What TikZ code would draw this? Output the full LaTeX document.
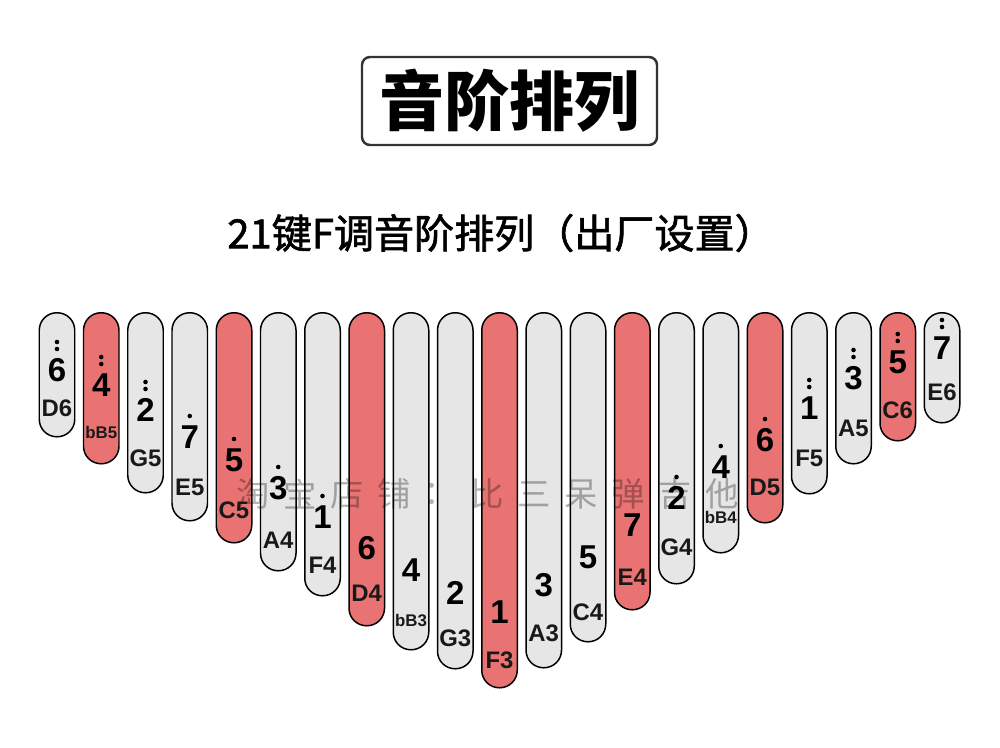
\documentclass[tikz,border=0pt]{standalone}
\usepackage{fontspec}
\setmainfont{Liberation Sans}
\newfontfamily\cjk{Noto Sans CJK SC}
\newfontfamily\cjksub[FakeBold=1.6]{Noto Sans CJK SC}
\usepackage{xcolor}
\usetikzlibrary{positioning}
\definecolor{keyred}{HTML}{E97373}
\definecolor{keygray}{HTML}{E6E6E6}
\definecolor{boxline}{HTML}{333333}
\tikzset{
  keybar/.style={draw=black,line width=0.85pt,rounded corners=3.5mm,minimum width=7.1mm,inner sep=0pt,anchor=north},
  numtxt/.style={font=\fontsize{18.8}{18.8}\selectfont\bfseries,inner sep=0pt},
  nametxt/.style={inner sep=0pt,text=black!90},
  marktxt/.style={font=\cjk\fontsize{19}{19}\selectfont,text=black,opacity=0.3,inner sep=0pt}
}

\begin{document}
\begin{tikzpicture}[x=0.2mm,y=-0.2mm]
\useasboundingbox (0,0) rectangle (1000,747);
% headings
\node (title) [draw=boxline,line width=1.4pt,rounded corners=1.6mm,minimum width=59mm,minimum height=17.6mm,
  font=\cjk\bfseries\fontsize{37}{37}\selectfont] at (509.5,101) {音阶排列};
\node (sub) [font=\cjksub\fontsize{22.8}{22.8}\selectfont] at (501,233) {21键F调音阶排列（出厂设置）};
% keys: index/fill/bottom
\foreach \i/\c/\b in {
  1/keygray/436, 2/keyred/463, 3/keygray/492, 4/keygray/520, 5/keyred/542,
  6/keygray/570, 7/keygray/595, 8/keyred/625, 9/keygray/649, 10/keygray/668,
  11/keyred/687, 12/keygray/667, 13/keygray/641, 14/keyred/609, 15/keygray/583,
  16/keygray/552, 17/keyred/522, 18/keygray/493, 19/keygray/463, 20/keyred/440,
  21/keygray/422}{
  \pgfmathsetmacro\kx{57+44.25*(\i-1)}
  \node (key\i) [keybar,fill=\c,minimum height={(\b-312)*0.2mm}] at (\kx,312) {};
}
% watermark
\foreach \ch [count=\j] in {淘,宝,店,铺,：,比,三,呆,弹,吉,他}
  \node (mark\j) [marktxt] at ({253+46.9*(\j-1)},494) {\ch};
% digits and note names: index/digit/dots/name/digit y/name y/name size
\foreach \i/\d/\n/\nm/\dy/\ly/\fs in {
  1/6/2/D6/370/408/13.6, 2/4/2/bB5/385/432/9.6, 3/2/2/G5/410/458/13.6,
  4/7/1/E5/437/487/13.6, 5/5/1/C5/460/510/13.6, 6/3/1/A4/488/540/13.6,
  7/1/1/F4/517/565/13.6, 8/6/0/D4/548/593/13.6, 9/4/0/bB3/570/620/9.6,
  10/2/0/G3/593/638/13.6, 11/1/0/F3/612/660/13.6, 12/3/0/A3/585/633/13.6,
  13/5/0/C4/557/612/13.6, 14/7/0/E4/525/577/13.6, 15/2/1/G4/498/547/13.6,
  16/4/1/bB4/467/517/9.6, 17/6/1/D5/440/487/13.6, 18/1/2/F5/408/458/13.6,
  19/3/2/A5/378/428/13.6, 20/5/2/C6/362/410/13.6, 21/7/2/E6/348/392/13.6}{
  \pgfmathsetmacro\kx{57+44.25*(\i-1)}
  \node (num\i) [numtxt] at (\kx,\dy) {\d};
  \node (name\i) [nametxt,font=\fontsize{\fs}{\fs}\selectfont\bfseries] at (\kx,\ly) {\nm};
  \ifnum\n>0 \fill (\kx,\dy-21) circle (2.3); \fi
  \ifnum\n>1 \fill (\kx,\dy-28) circle (2.3); \fi
}
\end{tikzpicture}
\end{document}
